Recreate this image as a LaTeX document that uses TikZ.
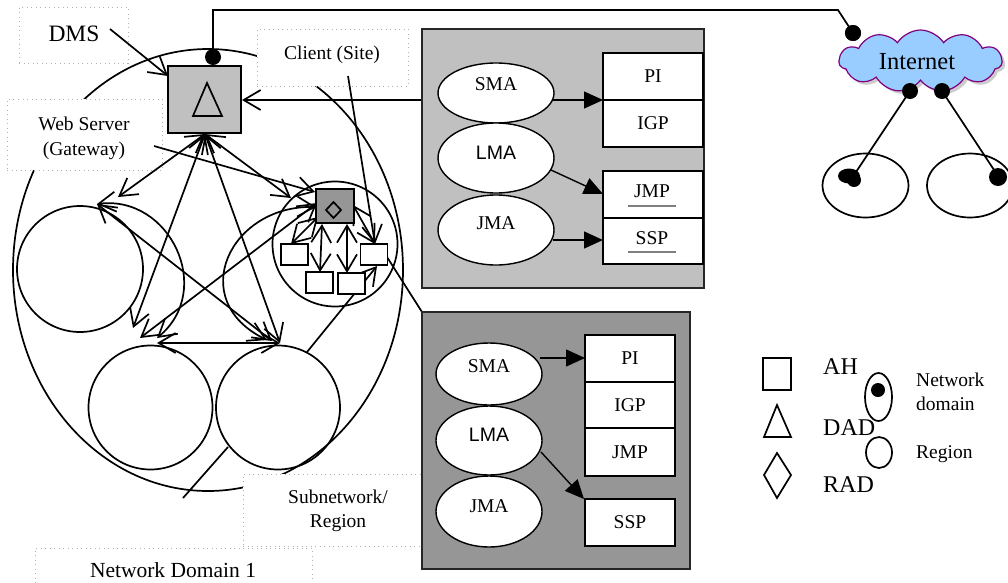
\documentclass[tikz,border=0pt]{standalone}
\usepackage{fontspec}
\setmainfont{Liberation Serif}
\newfontfamily\arialfam{Liberation Sans}
\usetikzlibrary{arrows.meta,shapes.symbols,shapes.geometric,shadows}
\definecolor{panelA}{HTML}{C0C0C0}
\definecolor{panelB}{HTML}{969696}
\definecolor{cloudfill}{HTML}{99CCFF}
\definecolor{cloudedge}{HTML}{800080}
\definecolor{boxedge}{HTML}{B0B0B0}
\newcommand\ftxt{\fontsize{19.5}{23}\selectfont}
\newcommand\fdms{\fontsize{23.5}{27}\selectfont}
\newcommand\fnd{\fontsize{21.5}{25}\selectfont}
\newcommand\finet{\fontsize{24.5}{28}\selectfont}
\newcommand\fleg{\fontsize{24}{28}\selectfont}
\begin{document}
\begin{tikzpicture}[x=1pt,y=-1pt,
 ln/.style={line width=1.7pt},
 >={Straight Barb[length=17pt,width=20pt]},
 tbox/.style={draw=boxedge, dash pattern=on 1pt off 3.5pt, fill=white, line width=0.8pt},
 region/.style={circle, draw, line width=1.7pt, inner sep=0pt},
 lbl/.style={inner sep=0pt, font=\ftxt},
 ahbox/.style={draw, fill=white, line width=1.7pt, minimum width=27pt, minimum height=21pt, inner sep=0pt},
 pbox/.style={draw, fill=white, line width=1.4pt, inner sep=0pt, font=\ftxt, minimum width=100pt},
 pell/.style={ellipse, draw, fill=white, line width=1.4pt, inner sep=0pt},
 tri/.style={-{Triangle[length=19pt,width=17pt]}, line width=1.4pt},
 dot/.style={circle, fill=black, inner sep=0pt, minimum size=16pt},
]
\useasboundingbox (0,0) rectangle (1008,582);

% network domain ellipse
\draw[ln] (208,270) ellipse [x radius=195, y radius=221];

% dotted text boxes
\node[tbox, minimum width=109pt, minimum height=56pt, inner sep=0pt] (bDMS) at (73.5,35) {};
\node[tbox, minimum width=155pt, minimum height=71pt, inner sep=0pt] (bWeb) at (84.5,134.5) {};
\node[tbox, minimum width=151pt, minimum height=57pt, inner sep=0pt] (bCli) at (332.5,57.5) {};
\node[tbox, minimum width=190pt, minimum height=72pt, inner sep=0pt] (bSub) at (338,510) {};
\node[tbox, minimum width=277pt, minimum height=60pt, inner sep=0pt] (bND) at (173.5,578) {};

\node[inner sep=0pt, font=\fdms] (tDMS) at (74,34) {DMS};
\node[lbl] (tWeb1) at (84,124) {Web Server};
\node[lbl] (tWeb2) at (84,151) {(Gateway)};
\node[lbl] (tCli) at (332,55) {Client (Site)};
\node[lbl] (tSub1) at (338,497) {Subnetwork/};
\node[lbl] (tSub2) at (338,523) {Region};
\node[inner sep=0pt, font=\fnd] (tND) at (173,570) {Network Domain 1};

% regions
\node[region, minimum size=126pt] (rA) at (80,269) {};
\node[region, minimum size=124pt] (rB) at (150.5,407.5) {};
\node[region, minimum size=124pt] (rC) at (278,407.5) {};
\node[region, minimum size=125pt] (rD) at (335,244) {};

% connector end points
\coordinate (dmsS) at (110,29);
\coordinate (dadTL) at (168,76);
\coordinate (dadB) at (205,134);
\coordinate (dadR) at (242,100);
\coordinate (upP) at (422,100);
\coordinate (webS) at (154,146);
\coordinate (cliS) at (348,76);
\coordinate (pA1) at (118,197);
\coordinate (pA2) at (97,204);
\coordinate (pB1) at (133,328);
\coordinate (pB2) at (140,338);
\coordinate (pB3) at (157,338);
\coordinate (pB4) at (157,343);
\coordinate (pC1) at (280,343);
\coordinate (pC2) at (267,340);
\coordinate (pC3) at (272,341);
\coordinate (pC4) at (307,352);
\coordinate (pC5) at (228,447);
\coordinate (ndEnd) at (183,498);
\coordinate (pD1) at (291,198);
\coordinate (radL1) at (315,192);
\coordinate (radL2) at (317,203);
\coordinate (radL3) at (316,207);
\coordinate (radB1) at (318,217);
\coordinate (radB2) at (322,224);
\coordinate (radB3) at (347,224);
\coordinate (radR) at (353,205);
\coordinate (ahLt) at (291,244);
\coordinate (ahBLt) at (320,272);
\coordinate (ahBRt) at (347,273);
\coordinate (ahRt) at (375,244);
\coordinate (ahRb) at (377,266);
\coordinate (ahRr) at (387,257);
\coordinate (lowP) at (422,312);

% connectors
\draw[ln,->] (dmsS) -- (dadTL);
\draw[ln,<->] (dadB) -- (pA1);
\draw[ln,<->] (dadB) -- (pB1);
\draw[ln,<->] (dadB) -- (pC1);
\draw[ln,<->] (dadB) -- (pD1);
\draw[ln,->] (webS) -- (radL1);
\draw[ln,<->] (radL2) -- (pB2);
\draw[ln,<->] (radL3) .. controls (230,205) and (185,300) .. (pC2);
\draw[ln,<->] (pA2) .. controls (170,195) and (215,290) .. (pB3);
\draw[ln,<->] (pA2) -- (pC3);
\draw[ln,<->] (pB4) -- (pC1);
\draw[ln,->] (cliS) -- (ahRt);
\draw[ln,->] (pC4) -- (ahRb);
\draw[ln] (pC5) -- (ndEnd);
\draw[ln] (ahRr) -- (lowP);
\draw[ln,<->] (radB1) -- (ahLt);
\draw[ln,<->] (radB2) -- (ahBLt);
\draw[ln,<->] (radB3) -- (ahBRt);
\draw[ln,<->] (radR) -- (ahRt);
\draw[ln,->] (upP) -- (dadR);

% DAD box
\node[draw, fill=panelA, line width=1.3pt, minimum width=73pt, minimum height=67pt, inner sep=0pt] (dad) at (204.5,99.5) {};
\draw[ln, line join=miter] (207,83) -- (222,116) -- (193,116) -- cycle;
% RAD box
\node[draw, fill=panelB, line width=1.3pt, minimum width=38pt, minimum height=34pt, inner sep=0pt] (rad) at (335,206) {};
\draw[ln] (333.5,202) -- (341,210) -- (333.5,218) -- (326,210) -- cycle;
% AH boxes
\node[ahbox] (ahL) at (294.5,254.5) {};
\node[ahbox] (ahBL) at (319.5,282.5) {};
\node[ahbox] (ahBR) at (351.5,283.5) {};
\node[ahbox] (ahR) at (374,254.5) {};

% dot and line to internet
\node[dot] (dadDot) at (213,57) {};
\node[dot] (iDot1) at (853,33) {};
\coordinate (kink) at (838,10);
\draw[ln] (dadDot.center) |- (kink) -- (iDot1.center);

% upper panel
\node[draw=black!85, fill=panelA, line width=1.4pt, minimum width=282pt, minimum height=259pt, inner sep=0pt] (panU) at (563,158.5) {};
\node[pell, minimum width=116pt, minimum height=60pt] (smaU) at (496,93) {};
\node[pell, minimum width=116pt, minimum height=70pt] (lmaU) at (496,158) {};
\node[pell, minimum width=116pt, minimum height=70pt] (jmaU) at (496,230) {};
\node[lbl] (tsmaU) at (496,84) {SMA};
\node[inner sep=0pt, font=\arialfam\ftxt] (tlmaU) at (496,153) {LMA};
\node[lbl] (tjmaU) at (496,223) {JMA};
\node[pbox, minimum height=47pt] (piU) at (653,76.5) {PI};
\node[pbox, minimum height=47pt] (igpU) at (653,123.5) {IGP};
\node[pbox, minimum height=47pt] (jmpU) at (653,194.5) {};
\node[pbox, minimum height=46pt] (sspU) at (653,241) {};
\node[lbl] (tjmpU) at (652,191) {JMP};
\node[lbl] (tsspU) at (652,238) {SSP};
\draw[line width=2pt, gray] (628,206) -- (676,206);
\draw[line width=2pt, gray] (628,252) -- (676,252);
\coordinate (smaUo) at (553,100);
\coordinate (lmaUo) at (551,170);
\coordinate (jmaUo) at (553,240);
\draw[tri] (smaUo) -- (603,100);
\draw[tri] (lmaUo) -- (603,194);
\draw[tri] (jmaUo) -- (603,240);

% lower panel
\node[draw=black!85, fill=panelB, line width=1.4pt, minimum width=268pt, minimum height=257pt, inner sep=0pt] (panL) at (556,440.5) {};
\node[pell, minimum width=106pt, minimum height=62pt] (smaL) at (489,374) {};
\node[pell, minimum width=106pt, minimum height=69pt] (lmaL) at (489,440.5) {};
\node[pell, minimum width=106pt, minimum height=71pt] (jmaL) at (489,511.5) {};
\node[lbl] (tsmaL) at (489,366) {SMA};
\node[inner sep=0pt, font=\arialfam\ftxt] (tlmaL) at (489,435) {LMA};
\node[lbl] (tjmaL) at (489,506) {JMA};
\node[pbox, minimum width=90pt, minimum height=47pt] (piL) at (630,358.5) {PI};
\node[pbox, minimum width=90pt, minimum height=46pt] (igpL) at (630,405) {IGP};
\node[pbox, minimum width=90pt, minimum height=48pt] (jmpL) at (630,452) {JMP};
\node[pbox, minimum width=90pt, minimum height=47pt] (sspL) at (630,522.5) {SSP};
\coordinate (smaLo) at (540,358);
\coordinate (lmaLo) at (541,452);
\draw[tri] (smaLo) -- (585,358);
\draw[tri] (lmaLo) -- (584,499);

% Internet
\node[cloud, cloud puffs=11, cloud puff arc=115, aspect=2.6, draw=cloudedge, fill=cloudfill, line width=1.2pt,
      minimum width=163pt, minimum height=62pt, inner sep=0pt,
      drop shadow={shadow xshift=3pt, shadow yshift=-3pt, fill=black!40}] (inet) at (920.5,61) {};
\node[inner sep=0pt, font=\finet] (tinet) at (917,62) {Internet};
\node[dot] (iDot1b) at (853,33) {};
\node[dot] (iDot2) at (910,91) {};
\node[dot] (iDot3) at (942,91) {};
\draw[ln] (865.5,185.5) ellipse [x radius=43, y radius=32];
\draw[ln] (970,185.5) ellipse [x radius=43, y radius=32];
\coordinate (blobL) at (852,178);
\coordinate (blobR) at (998,176);
\draw[ln] (iDot2.center) -- (blobL);
\draw[ln] (iDot3.center) -- (blobR);
\fill (849,176) ellipse [x radius=11, y radius=7.5];
\fill (854,180) circle [radius=7];
\fill (998,177) circle [radius=9];

% legend
\draw[ln] (763,358) rectangle (791,390);
\draw[ln, line join=miter] (777,405) -- (791,437) -- (764,437) -- cycle;
\draw[ln] (777,453) -- (791,475) -- (777,498) -- (764,475) -- cycle;
\node[inner sep=0pt, font=\fleg, anchor=west] (lAH) at (823,367) {AH};
\node[inner sep=0pt, font=\fleg, anchor=west] (lDAD) at (823,428) {DAD};
\node[inner sep=0pt, font=\fleg, anchor=west] (lRAD) at (823,485) {RAD};
\draw[ln] (878.5,397) ellipse [x radius=13.5, y radius=24];
\fill (878,390) circle [radius=7];
\draw[ln] (879,452.5) ellipse [x radius=13, y radius=15.5];
\node[lbl, anchor=west] (lNet1) at (916,380) {Network};
\node[lbl, anchor=west] (lNet2) at (916,404) {domain};
\node[lbl, anchor=west] (lReg) at (916,454) {Region};
\end{tikzpicture}
\end{document}
